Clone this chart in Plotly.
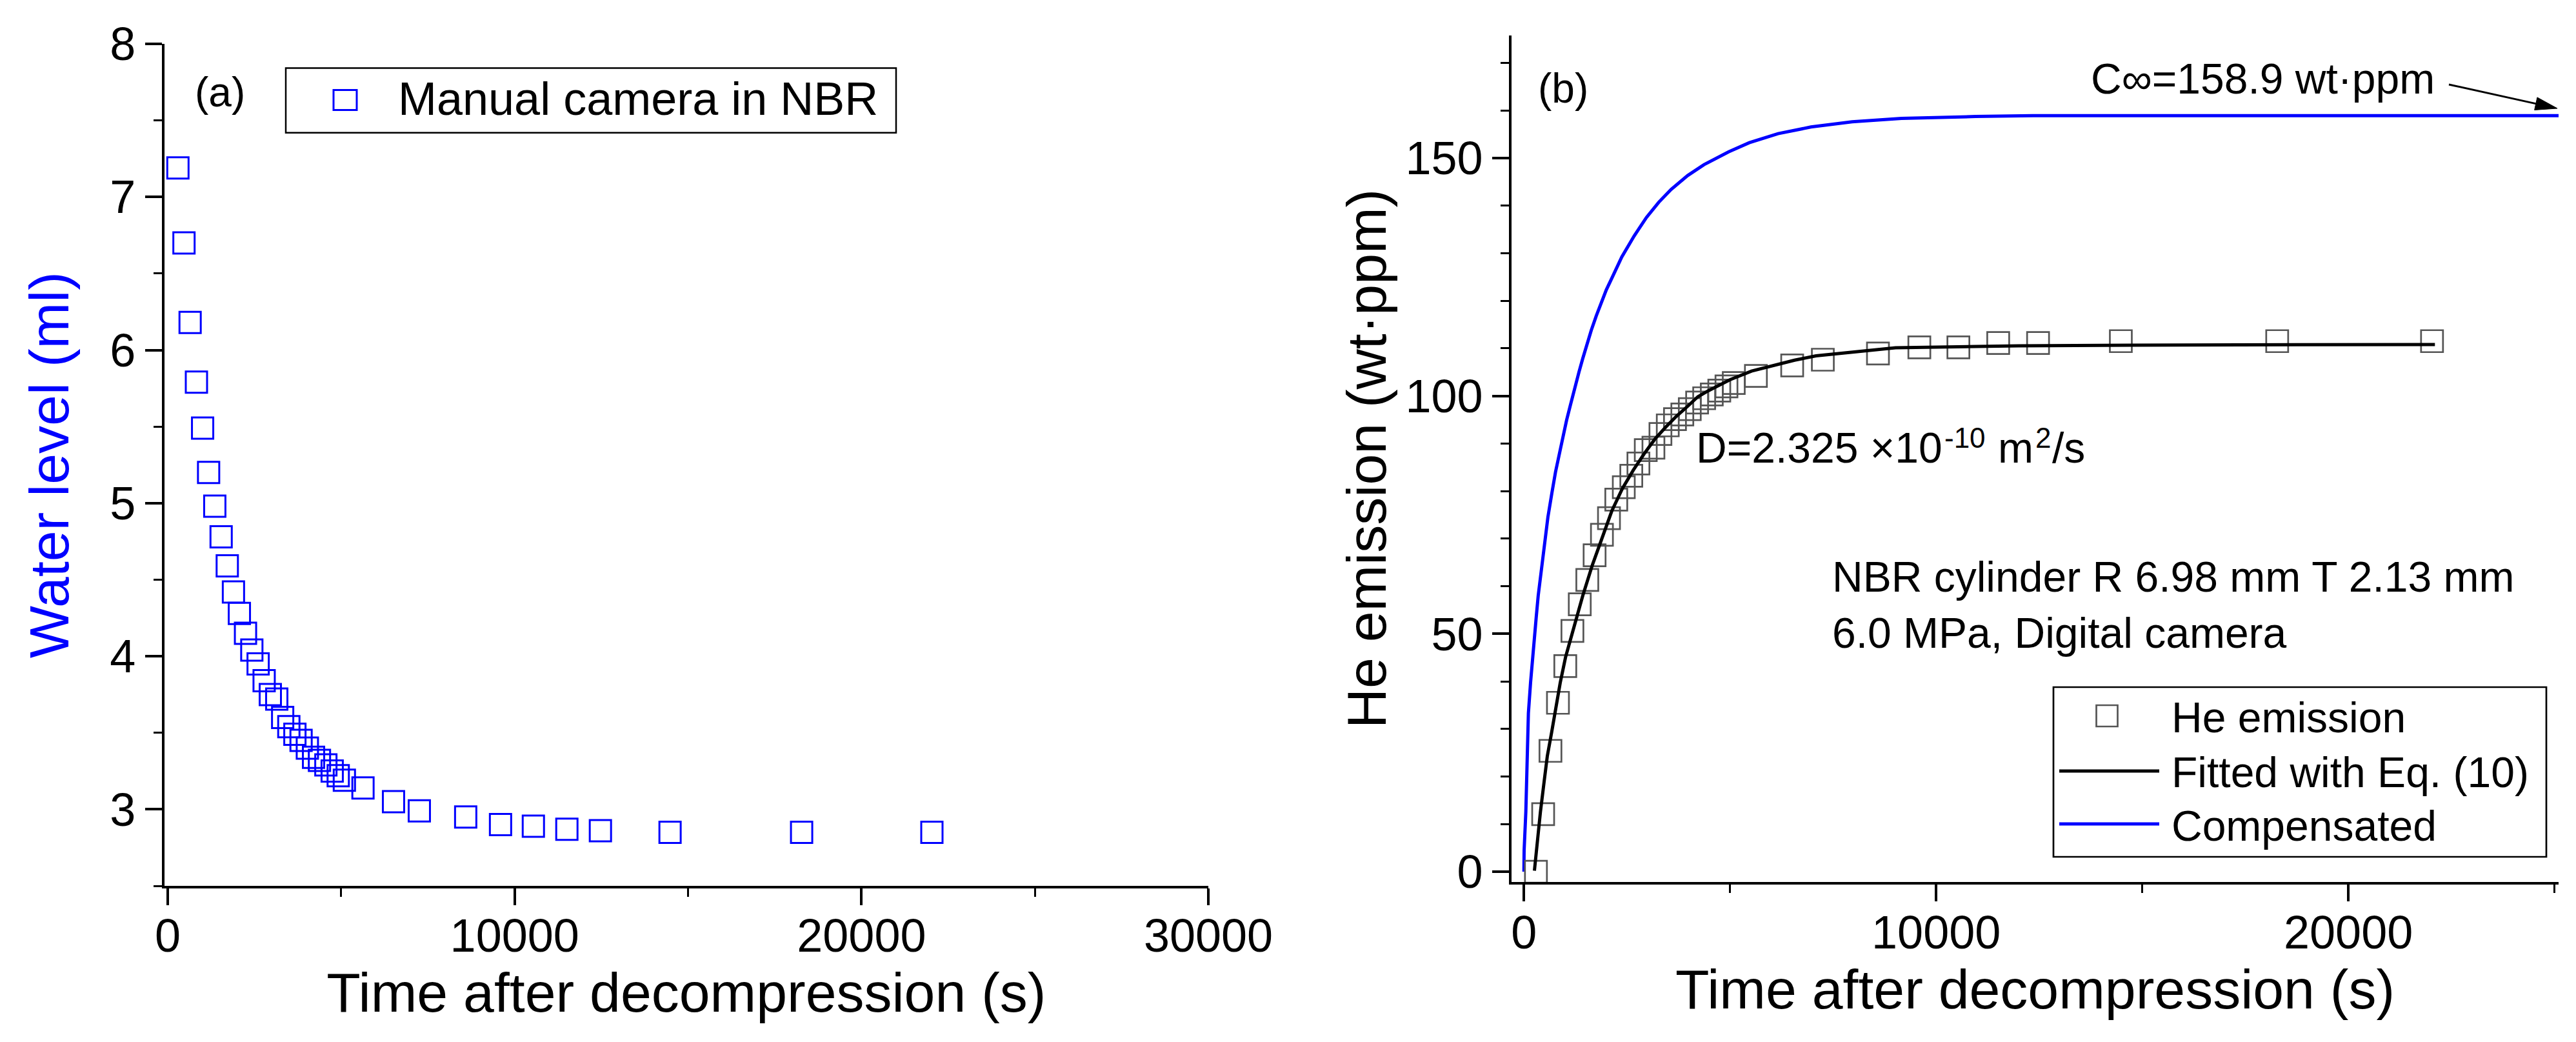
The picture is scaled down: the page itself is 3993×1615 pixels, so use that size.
import plotly.graph_objects as go

# ---------------- data ----------------
time_s = [292, 467, 644, 826, 1004, 1177, 1355, 1538, 1715, 1893, 2064, 2241, 2423,
          2605, 2778, 2956, 3142, 3312, 3490, 3665, 3843, 4024, 4202, 4373, 4558,
          4740, 4914, 5091, 5628, 6508, 7252, 8589, 9593, 10540, 11506, 12473,
          14481, 18274, 22030]
water_ml = [7.19, 6.70, 6.18, 5.79, 5.49, 5.20, 4.98, 4.78, 4.59, 4.42, 4.28, 4.15, 4.04,
            3.95, 3.84, 3.75, 3.72, 3.60, 3.54, 3.49, 3.45, 3.40, 3.34, 3.32, 3.29,
            3.25, 3.22, 3.19, 3.14, 3.05, 2.99, 2.95, 2.90, 2.89, 2.87, 2.86,
            2.85, 2.85, 2.85]
he_ppm = [0, 12.1, 25.4, 35.5, 43.2, 50.6, 56.2, 61.3, 66.5, 70.8, 74.3, 78.2, 80.8,
          83.2, 85.8, 88.6, 89.1, 92.0, 93.8, 95.1, 96.1, 97.2, 98.6, 99.5, 100.3,
          101.1, 102.0, 102.7, 104.2, 106.4, 107.6, 108.9, 110.2, 110.2, 111.1, 111.1,
          111.5, 111.5, 111.5]

fit_t = [255, 307, 401, 490, 568, 673, 776, 881, 1011, 1152, 1272, 1428, 1663, 1871,
         2132, 2393, 2654, 2915, 3176, 3436, 3697, 3958, 4218, 4479, 5000, 5523, 6044,
         6565, 7087, 7921, 9016, 12000, 16000, 22100]
fit_c = [0.2, 5.3, 12.6, 18.9, 24.3, 29.3, 34.7, 39.7, 45.1, 49.6, 53.2, 58.0, 64.5, 69.7,
         75.8, 80.6, 84.4, 87.8, 90.9, 93.4, 95.7, 97.7, 99.8, 101.1, 103.4, 105.2, 106.3,
         107.5, 108.4, 109.2, 110.1, 110.5, 110.7, 110.8]

comp_t = [0, 5, 47, 72, 109, 161, 213, 266, 300, 347, 396, 455, 527, 582, 677, 767, 887,
          947, 1036, 1126, 1234, 1336, 1426, 1516, 1635, 1755, 1874, 2000, 2126, 2375,
          2674, 2974, 3273, 3572, 3972, 4371, 4969, 5468, 6167, 6965, 7963, 9160, 10956,
          12353, 18000, 25100]
comp_c = [0, 4.4, 12.6, 20.7, 33.3, 39.7, 45.5, 50.1, 53.6, 58.0, 61.5, 66.5, 71.0, 74.5,
          79.5, 84.0, 88.9, 91.5, 94.9, 98.0, 101.8, 105.0, 107.8, 110.5, 113.8, 116.8,
          119.6, 122.3, 124.6, 129.2, 133.6, 137.5, 140.7, 143.4, 146.3, 148.6, 151.3,
          153.2, 155.1, 156.5, 157.6, 158.3, 158.7, 158.9, 158.9, 158.9]

x_ticks_a = [0, 10000, 20000, 30000]
y_ticks_a = [3, 4, 5, 6, 7, 8]
x_ticks_b = [0, 10000, 20000]
y_ticks_b = [0, 50, 100, 150]

# ---------------- geometry helpers ----------------
W, H = 3993, 1615
FONT = "Arial, Liberation Sans, sans-serif"
BLUE = "#0000FF"
GRAY = "#555555"


def px(X):
    return X / W


def py(Y):
    return 1 - Y / H


dom_ax = [px(246.7), px(1865)]
dom_ay = [py(1365), py(60)]
dom_bx = [px(2335), px(3958)]
dom_by = [py(1359.3), py(46.5)]
rng_ax = [-100, 30000]
rng_ay = [2.5, 8]
rng_bx = [-300, 25100]
rng_by = [-2.2, 175.8]

fig = go.Figure()

fig.add_trace(go.Scatter(
    x=time_s, y=water_ml, mode="markers", name="Manual camera in NBR",
    marker=dict(symbol="square-open", size=33, color=BLUE, line=dict(width=3, color=BLUE)),
    xaxis="x", yaxis="y", showlegend=False))

fig.add_trace(go.Scatter(
    x=comp_t, y=comp_c, mode="lines", name="Compensated",
    line=dict(color=BLUE, width=5), xaxis="x2", yaxis="y2", showlegend=False))
fig.add_trace(go.Scatter(
    x=time_s, y=he_ppm, mode="markers", name="He emission",
    marker=dict(symbol="square-open", size=34, color=GRAY, line=dict(width=2.7, color=GRAY)),
    xaxis="x2", yaxis="y2", showlegend=False))
fig.add_trace(go.Scatter(
    x=fit_t, y=fit_c, mode="lines", name="Fitted with Eq. (10)",
    line=dict(color="black", width=5), xaxis="x2", yaxis="y2", showlegend=False))


def main_axis(domain, rng, ticks, minor_dtick, anchor, title, title_color="black",
              standoff=10, label_standoff=0):
    return dict(
        domain=domain, range=rng, anchor=anchor, tickmode="array", tickvals=ticks,
        tickformat="d", ticks="outside", ticklen=26, tickwidth=4, tickcolor="black",
        ticklabelstandoff=label_standoff,
        tickfont=dict(family=FONT, size=72, color="black"),
        minor=dict(dtick=minor_dtick, ticks="outside", ticklen=13, tickwidth=3,
                   tickcolor="black", showgrid=False),
        showline=True, linewidth=4, linecolor="black", showgrid=False, zeroline=False,
        title=dict(text=title, font=dict(family=FONT, size=86, color=title_color),
                   standoff=standoff),
        automargin=False,
    )


def mirror_axis(overlay, rng, ticks, minor_dtick, anchor, side):
    return dict(
        overlaying=overlay, range=rng, anchor=anchor, side=side, tickmode="array",
        tickvals=ticks, showticklabels=False, ticks="inside", ticklen=26, tickwidth=4,
        tickcolor="black",
        minor=dict(dtick=minor_dtick, ticks="inside", ticklen=13, tickwidth=3,
                   tickcolor="black", showgrid=False),
        showline=True, linewidth=4, linecolor="black", showgrid=False, zeroline=False,
        automargin=False,
    )


fig.update_layout(
    width=W, height=H, margin=dict(l=0, r=0, t=0, b=0), autosize=False,
    paper_bgcolor="white", plot_bgcolor="white", showlegend=False,
    font=dict(family=FONT, color="black"),
    xaxis=main_axis(dom_ax, rng_ax, x_ticks_a, 5000, "y", "Time after decompression (s)",
                    standoff=12, label_standoff=-14),
    yaxis=main_axis(dom_ay, rng_ay, y_ticks_a, 0.5, "x", "Water level (ml)", BLUE, standoff=36),
    xaxis2=main_axis(dom_bx, rng_bx, x_ticks_b, 5000, "y2", "Time after decompression (s)",
                     standoff=12, label_standoff=-14),
    yaxis2=main_axis(dom_by, rng_by, y_ticks_b, 10, "x2", "He emission (wt·ppm)", standoff=2),
    xaxis3=mirror_axis("x", rng_ax, x_ticks_a, 5000, "y", "top"),
    yaxis3=mirror_axis("y", rng_ay, y_ticks_a, 0.5, "x", "right"),
    xaxis4=mirror_axis("x2", rng_bx, x_ticks_b, 5000, "y2", "top"),
    yaxis4=mirror_axis("y2", rng_by, y_ticks_b, 10, "x2", "right"),
)

shapes = []
annotations = []


def text(t, X, Y, size, xanchor="left", yanchor="middle", color="black"):
    annotations.append(dict(
        text=t, x=px(X), y=py(Y), xref="paper", yref="paper", showarrow=False,
        xanchor=xanchor, yanchor=yanchor, borderpad=0,
        font=dict(family=FONT, size=size, color=color)))


def rect(X0, Y0, X1, Y1, color, width):
    shapes.append(dict(type="rect", xref="paper", yref="paper",
                       x0=px(X0), x1=px(X1), y0=py(Y1), y1=py(Y0),
                       line=dict(color=color, width=width), fillcolor="rgba(0,0,0,0)"))


def seg(X0, Y0, X1, Y1, color, width):
    shapes.append(dict(type="line", xref="paper", yref="paper",
                       x0=px(X0), x1=px(X1), y0=py(Y0), y1=py(Y1),
                       line=dict(color=color, width=width)))


def arrow(X0, Y0, X1, Y1, head_len=34, head_half=10, width=3):
    dx, dy = X1 - X0, Y1 - Y0
    n = (dx * dx + dy * dy) ** 0.5
    ux, uy = dx / n, dy / n
    bx, by = X1 - head_len * ux, Y1 - head_len * uy
    seg(X0, Y0, bx + 2 * ux, by + 2 * uy, "black", width)
    p1 = (bx - head_half * uy, by + head_half * ux)
    p2 = (bx + head_half * uy, by - head_half * ux)
    path = "M{:.5f},{:.5f} L{:.5f},{:.5f} L{:.5f},{:.5f} Z".format(
        px(X1), py(Y1), px(p1[0]), py(p1[1]), px(p2[0]), py(p2[1]))
    shapes.append(dict(type="path", xref="paper", yref="paper", path=path,
                       fillcolor="black", line=dict(color="black", width=1)))


# panel (a) legend + label
rect(435, 97.5, 1381, 197.8, "black", 2.5)
rect(509, 131.5, 545, 162.5, BLUE, 3)
text("Manual camera in NBR", 608, 145, 72)
text("(a)", 333, 135, 64, xanchor="center")

# panel (b) labels
text("(b)", 2415, 129, 64, xanchor="center")
text("C\u221e=158.9 wt\u00b7ppm", 3767, 114, 66, xanchor="right")
arrow(3788, 123, 3956, 160)
# diffusion coefficient label: main part + raised exponents as separate texts
text("D=2.325 \u00d710", 2620, 724, 66, yanchor="bottom")
text("-10", 3005, 670, 44, yanchor="middle")
text("m", 3088, 724, 66, yanchor="bottom")
text("2", 3146, 670, 44, yanchor="middle")
text("/s", 3172, 724, 66, yanchor="bottom")
text("NBR cylinder R 6.98 mm T 2.13 mm", 2831, 886, 66)
text("6.0 MPa, Digital camera", 2831, 973, 66)

# panel (b) legend
rect(3175, 1057, 3939, 1320, "black", 2.7)
rect(3241.5, 1085, 3274.5, 1118, GRAY, 2.7)
seg(3184, 1187, 3339, 1187, "black", 5)
seg(3184, 1269, 3339, 1269, BLUE, 5)
text("He emission", 3357, 1104, 66)
text("Fitted with Eq. (10)", 3357, 1189, 66)
text("Compensated", 3357, 1272, 66)

fig.update_layout(shapes=shapes, annotations=annotations)

fig.write_html("out.html")
